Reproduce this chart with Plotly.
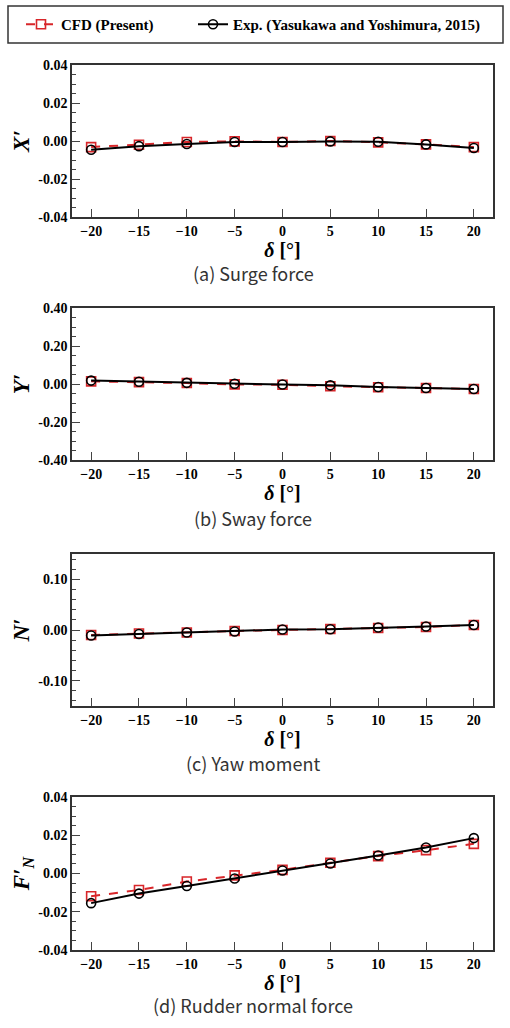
import plotly.graph_objects as go
from plotly.subplots import make_subplots

# rudder angle
delta = [-20, -15, -10, -5, 0, 5, 10, 15, 20]

# (a) surge force X'
x_cfd = [-0.0032, -0.0020, -0.0005, -0.0002, -0.0005, 0.0000, -0.0007, -0.0018, -0.0032]
x_exp = [-0.0046, -0.0027, -0.0016, -0.0005, -0.0005, -0.0002, -0.0004, -0.0018, -0.0037]

# (b) sway force Y'
y_cfd = [0.014, 0.010, 0.005, -0.002, -0.004, -0.012, -0.017, -0.021, -0.026]
y_exp = [0.018, 0.012, 0.006, 0.001, -0.003, -0.007, -0.016, -0.021, -0.026]

# (c) yaw moment N'
n_cfd = [-0.010, -0.007, -0.005, -0.002, 0.000, 0.002, 0.004, 0.006, 0.010]
n_exp = [-0.011, -0.008, -0.005, -0.003, 0.001, 0.0015, 0.005, 0.007, 0.010]

# (d) rudder normal force F_N'
f_cfd = [-0.0119, -0.0086, -0.0042, -0.0010, 0.0019, 0.0056, 0.0091, 0.0122, 0.0155]
f_exp = [-0.0155, -0.0105, -0.0065, -0.0026, 0.0016, 0.0052, 0.0094, 0.0136, 0.0185]

x_ticks = [-20, -15, -10, -5, 0, 5, 10, 15, 20]

panels = [
    ("X′", x_cfd, x_exp, [-0.04, -0.02, 0.00, 0.02, 0.04], ["-0.04", "-0.02", "0.00", "0.02", "0.04"], [-0.04, 0.04], 0.005, "(a) Surge force"),
    ("Y′", y_cfd, y_exp, [-0.40, -0.20, 0.00, 0.20, 0.40], ["-0.40", "-0.20", "0.00", "0.20", "0.40"], [-0.40, 0.40], 0.05, "(b) Sway force"),
    ("N′", n_cfd, n_exp, [-0.10, 0.00, 0.10], ["-0.10", "0.00", "0.10"], [-0.15, 0.15], 0.02, "(c) Yaw moment"),
    ("F′<sub>N</sub>", f_cfd, f_exp, [-0.04, -0.02, 0.00, 0.02, 0.04], ["-0.04", "-0.02", "0.00", "0.02", "0.04"], [-0.04, 0.04], 0.005, "(d) Rudder normal force"),
]

W, H = 510, 1028
# plot boxes in pixels (top, bottom) and caption centre
boxes = [(65, 217, 273), (308, 460, 518), (554, 706, 763), (797, 950, 1005)]

RED = "#d8262a"
serif = "Liberation Serif"

fig = make_subplots(rows=4, cols=1)

for i, (ylab, cfd, exp, tv, tt, yr, minor_step, cap) in enumerate(panels):
    r = i + 1
    fig.add_trace(go.Scatter(
        x=delta, y=cfd, mode="lines+markers", name="CFD (Present)",
        line=dict(color=RED, width=2, dash="dash"),
        marker=dict(symbol="square-open", size=9, color=RED, line=dict(width=1.6)),
        showlegend=(i == 0), legend="legend",
    ), row=r, col=1)
    fig.add_trace(go.Scatter(
        x=delta, y=exp, mode="lines+markers", name="Exp. (Yasukawa and Yoshimura, 2015)",
        line=dict(color="black", width=2),
        marker=dict(symbol="circle-open", size=9, color="black", line=dict(width=1.6)),
        showlegend=(i == 0), legend="legend2",
    ), row=r, col=1)

    top, bot, capy = boxes[i]
    fig.update_yaxes(
        domain=[1 - bot / H, 1 - top / H], range=yr,
        tickvals=tv, ticktext=tt, ticks="inside", ticklen=8, tickwidth=1.2, tickcolor="#444",
        minor=dict(dtick=minor_step, ticks="inside", ticklen=4, tickcolor="#444", tickwidth=1),
        showline=True, mirror=True, linecolor="#333", linewidth=1.5,
        showgrid=False, zeroline=False,
        tickfont=dict(family=serif, size=14, color="black", weight="bold"),
        title=dict(text="<b><i>" + ylab + "</i></b>", standoff=2,
                   font=dict(family=serif, size=23, color="black")),
        row=r, col=1,
    )
    fig.update_xaxes(
        domain=[72 / W, 493 / W], range=[-22, 22],
        tickvals=x_ticks, ticks="inside", ticklen=8, tickwidth=1.2, tickcolor="#444",
        showline=True, mirror=True, linecolor="#333", linewidth=1.5,
        showgrid=False, zeroline=False,
        tickfont=dict(family=serif, size=14, color="black", weight="bold"),
        title=dict(text="<b><i>δ</i> [°]</b>", standoff=5,
                   font=dict(family=serif, size=20, color="black")),
        row=r, col=1,
    )
    fig.add_annotation(
        text=cap, xref="paper", yref="paper", x=253 / W, y=1 - capy / H,
        xanchor="center", yanchor="middle", showarrow=False,
        font=dict(family="Noto Sans CJK KR", size=18, color="#333"),
    )

# legend frame
fig.add_shape(type="rect", xref="paper", yref="paper",
              x0=8 / W, x1=503 / W, y0=1 - 43 / H, y1=1 - 6 / H,
              line=dict(color="#333", width=1.5))

leg_font = dict(family=serif, size=15, color="black", weight="bold")
fig.update_layout(
    width=W, height=H,
    margin=dict(l=0, r=0, t=0, b=0, autoexpand=False),
    paper_bgcolor="white", plot_bgcolor="white",
    legend=dict(x=21 / W, y=1 - 24.5 / H, xanchor="left", yanchor="middle",
                font=leg_font, bgcolor="rgba(0,0,0,0)", borderwidth=0),
    legend2=dict(x=193 / W, y=1 - 24.5 / H, xanchor="left", yanchor="middle",
                 font=leg_font, bgcolor="rgba(0,0,0,0)", borderwidth=0),
)

# page body margin would shift the figure by 8px
fig.write_html("out.html", config={"displayModeBar": False},
               post_script="document.body.style.margin='0';")
